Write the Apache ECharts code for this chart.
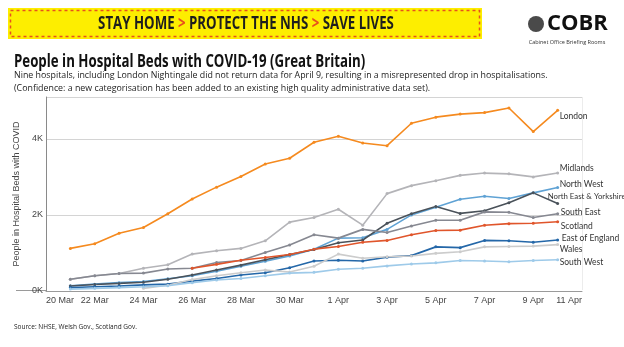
<!DOCTYPE html>
<html><head><meta charset="utf-8">
<script src="https://cdn.jsdelivr.net/npm/echarts@6/dist/echarts.min.js"></script>
<style>html,body{margin:0;padding:0;background:#fff}#c{width:624px;height:347px}</style>
</head><body><div id="c"></div>
<script>
const categories = ['20 Mar','21 Mar','22 Mar','23 Mar','24 Mar','25 Mar','26 Mar','27 Mar','28 Mar','29 Mar','30 Mar','31 Mar','1 Apr','2 Apr','3 Apr','4 Apr','5 Apr','6 Apr','7 Apr','8 Apr','9 Apr','10 Apr','11 Apr'];
// values from 21 Mar to 10 Apr (20 Mar has no data)
const london    = [1120,1240,1520,1670,2030,2420,2730,3010,3340,3490,3910,4070,3890,3820,4410,4570,4650,4690,4810,4190,4750];
const midlands  = [310,400,460,600,690,970,1060,1120,1320,1810,1930,2150,1730,2560,2770,2900,3040,3100,3080,3000,3100];
const northWest = [140,180,220,250,320,400,520,650,780,920,1100,1390,1400,1620,2000,2200,2410,2490,2430,2580,2720];
const northEastYorks = [130,170,200,230,310,420,550,680,820,960,1090,1270,1340,1780,2030,2220,2040,2110,2320,2580,2300];
const southEast = [310,400,460,470,580,600,750,800,1010,1210,1480,1390,1620,1540,1710,1860,1860,2080,2070,1930,2030];
const scotland  = [null,null,null,null,null,600,700,810,880,960,1100,1170,1280,1330,1480,1590,1600,1730,1770,1780,1820];
const eastEngland = [90,110,130,160,180,260,330,420,480,610,790,810,790,890,930,1160,1140,1330,1320,1280,1340];
const wales     = [null,null,null,70,150,300,400,480,550,500,650,970,860,900,920,990,1030,1160,1170,1180,1220];
const southWest = [50,70,90,110,140,220,290,330,400,470,490,570,600,660,710,740,800,790,770,800,820];
const yTicks = [0,2000,4000];

const seriesDefs = [
  {name:'London', data:london, color:'#f58a1f', off:[0,6], fs:8.5},
  {name:'Midlands', data:midlands, color:'#b4b4b8', off:[0,-5], fs:8.5},
  {name:'North West', data:northWest, color:'#5fa2d4', off:[0,-3], fs:8.5},
  {name:'North East & Yorkshire', data:northEastYorks, color:'#4a525a', off:[-12,-7], fs:7.8},
  {name:'South East', data:southEast, color:'#868891', off:[1,-2], fs:8.5},
  {name:'Scotland', data:scotland, color:'#e0552b', off:[1,4], fs:8.5},
  {name:'East of England', data:eastEngland, color:'#2467a8', off:[2,-2], fs:8.5},
  {name:'Wales', data:wales, color:'#cccccc', off:[0,5], fs:8.5},
  {name:'South West', data:southWest, color:'#9ecae9', off:[0,2], fs:8.5}
];

const chart = echarts.init(document.getElementById('c'), null, {renderer:'canvas'});
const sans = "'Open Sans',sans-serif";
chart.setOption({
  animation:false,
  backgroundColor:'#fff',
  grid:{left:46, right:42, top:97, bottom:56, containLabel:false},
  xAxis:{
    type:'category', data:categories, boundaryGap:false,
    axisLine:{lineStyle:{color:'#9a9a9a', width:1}},
    axisTick:{show:false},
    axisLabel:{interval:1, fontSize:9, color:'#444', margin:5, fontFamily:'Liberation Sans', alignMinLabel:'left', alignMaxLabel:'right'},
    splitLine:{show:false}
  },
  yAxis:{
    type:'value', min:0, max:5100, interval:2000,
    name:'People in Hospital Beds with COVID', nameLocation:'middle', nameGap:20,
    nameTextStyle:{fontSize:9, color:'#444', fontFamily:'Liberation Sans'},
    axisLine:{show:true, lineStyle:{color:'#8a8a8a', width:1}},
    axisTick:{show:false},
    axisLabel:{fontSize:9, color:'#444', margin:3, fontFamily:'Liberation Sans', showMaxLabel:false,
      formatter:v => yTicks.includes(v) ? (v/1000)+'K' : ''},
    splitLine:{show:true, lineStyle:{color:'#d4d4d4', width:1}}
  },
  series: seriesDefs.map(s => ({
    name:s.name, type:'line', data:[null].concat(s.data),
    connectNulls:false, symbol:'circle', symbolSize:3, showSymbol:true,
    lineStyle:{color:s.color, width:1.6}, itemStyle:{color:s.color},
    endLabel:{show:true, formatter:s.name, distance:2, offset:s.off, fontSize:s.fs, color:'#333', fontFamily:'Lato'},
    emphasis:{disabled:true}
  })),
  graphic:[
    {type:'line', shape:{x1:16,y1:290.5,x2:46,y2:290.5}, style:{stroke:'#9a9a9a', lineWidth:1}, silent:true},
    {type:'line', shape:{x1:582.5,y1:97,x2:582.5,y2:290}, style:{stroke:'#ececec', lineWidth:1}, silent:true},
    {type:'rect', shape:{x:8,y:8,width:474,height:31}, style:{fill:'#fdee00'}, silent:true},
    {type:'rect', shape:{x:10.5,y:10.5,width:469,height:26}, style:{fill:null, stroke:'#e8501c', lineWidth:1.5, lineDash:[3,3]}, silent:true},
    {type:'text', x:246, y:24, scaleX:0.78, style:{
      text:'STAY HOME {c|>} PROTECT THE NHS {c|>} SAVE LIVES', align:'center', verticalAlign:'middle',
      font:"bold 17px "+sans, fill:'#1e1e1e',
      rich:{c:{fill:'#e8501c', font:"bold 17px "+sans}}
    }, silent:true},
    {type:'circle', shape:{cx:536, cy:24, r:8}, style:{fill:'#4a4a4a'}, silent:true},
    {type:'text', x:547, y:24, style:{text:'COBR', font:"bold 22px "+sans, fill:'#111', verticalAlign:'middle'}, silent:true},
    {type:'text', x:567, y:42, style:{text:'Cabinet Office Briefing Rooms', font:"5.5px "+sans, fill:'#333', align:'center', verticalAlign:'middle'}, silent:true},
    {type:'text', x:14, y:62, scaleX:0.78, style:{text:'People in Hospital Beds with COVID-19 (Great Britain)', font:"bold 17px "+sans, fill:'#111', verticalAlign:'middle'}, silent:true},
    {type:'text', x:14, y:75, scaleX:0.93, style:{text:'Nine hospitals, including London Nightingale did not return data for April 9, resulting in a misrepresented drop in hospitalisations.', font:"9.5px "+sans, fill:'#222', verticalAlign:'middle'}, silent:true},
    {type:'text', x:14, y:88, scaleX:0.93, style:{text:'(Confidence: a new categorisation has been added to an existing high quality administrative data set).', font:"9.5px "+sans, fill:'#222', verticalAlign:'middle'}, silent:true},
    {type:'text', x:14, y:327, style:{text:'Source: NHSE, Welsh Gov., Scotland Gov.', font:"6.5px "+sans, fill:'#222', verticalAlign:'middle'}, silent:true}
  ]
});
</script></body></html>
